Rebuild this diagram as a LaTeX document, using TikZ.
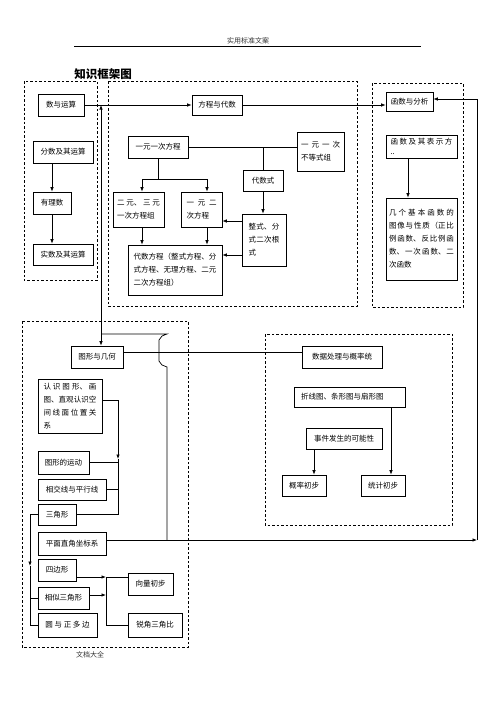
\documentclass[tikz,border=0pt]{standalone}
\usepackage{fontspec}
\setmainfont{Noto Sans CJK SC}
\usetikzlibrary{arrows.meta}
\XeTeXlinebreaklocale "zh"
\XeTeXlinebreakskip=0pt plus 3pt
\tolerance=9999
\hbadness=10000
\begin{document}
\begin{tikzpicture}[x=1pt,y=-1pt,
  bx/.style={draw, line width=0.6pt, inner sep=0pt, font=\fontsize{7.5}{13}\selectfont},
  ml/.style={bx, align=justify},
  frame/.style={draw, line width=0.7pt, dash pattern=on 2.5pt off 2pt},
  ln/.style={line width=0.7pt},
  arr/.style={ln, -{Latex[length=4.5pt,width=3.5pt]}},
  arrb/.style={ln, {Latex[length=4.5pt,width=3.5pt]}-{Latex[length=4.5pt,width=3.5pt]}},
]
\useasboundingbox (0,0) rectangle (496,702);

% header
\node[font=\fontsize{7}{8}\selectfont, text=black!80] (hdr) at (248,41) {实用标准文案};
\draw[line width=0.6pt] (74,46) -- (421,46);
\node[font=\fontsize{11.5}{12}\selectfont\bfseries] (title) at (103,74) {知识框架图};
\node[font=\fontsize{7}{8}\selectfont, text=black!80] (foot) at (90,655) {文档大全};

% dashed frames
\draw[frame] (24,81) rectangle (97,280);
\draw[frame] (108,81) rectangle (357,306);
\draw[frame] (372,83) rectangle (463,307);
\draw[frame] (22,321) rectangle (188,647);
\draw[frame] (265,334) rectangle (452,525);

% top row
\node[bx, minimum width=46pt, minimum height=22pt] (shu) at (61,105) {数与运算};
\node[bx, minimum width=50pt, minimum height=20pt] (fc) at (217,105) {方程与代数};
\node[bx, minimum width=47pt, minimum height=19pt] (hs) at (409.5,101.5) {函数与分析};

% box A
\node[bx, minimum width=60pt, minimum height=22pt] (fs) at (63,152) {分数及其运算};
\node[bx, minimum width=38pt, minimum height=22pt] (yl) at (52,203) {有理数};
\node[bx, minimum width=60pt, minimum height=21pt] (ss) at (63,254.5) {实数及其运算};

% box B
\node[bx, minimum width=60pt, minimum height=22pt] (yy) at (158,147) {一元一次方程};
\node[ml, text width=39pt, inner xsep=4pt, minimum height=39pt] (bd) at (320.5,151.5) {一元一次\linebreak 不等式组};
\node[bx, minimum width=40pt, minimum height=21pt] (dss) at (263,180.5) {代数式};
\node[ml, text width=43pt, inner xsep=4pt, minimum height=35pt] (ey) at (138.5,209.5) {二元、三元\linebreak 一次方程组};
\node[ml, text width=30pt, inner xsep=5.5pt, minimum height=35pt] (ec) at (201.5,209.5) {一元二\linebreak 次方程};
\node[ml, text width=31pt, inner xsep=6.5pt, minimum height=52pt] (zs) at (264,240) {整式、分\linebreak 式二次根\linebreak 式};
\node[ml, text width=83pt, inner xsep=5.5pt, minimum height=50pt] (dsfc) at (175,270) {代数方程（整式方程、分\linebreak 式方程、无理方程、二元\linebreak 二次方程组）};

% box C
\node[ml, text width=62pt, inner xsep=4.5pt, minimum height=23pt, font=\fontsize{7.5}{10}\selectfont] (hb) at (421.5,146.5) {函数及其表示方\linebreak ..};
\node[ml, text width=65pt, inner xsep=3pt, minimum height=82pt] (jg) at (421.5,239) {几个基本函数的\linebreak 图像与性质（正比\linebreak 例函数、反比例函\linebreak 数、一次函数、二\linebreak 次函数};

% box D
\node[bx, minimum width=52pt, minimum height=22pt] (tx) at (97,357) {图形与几何};
\node[ml, text width=53pt, inner xsep=5.5pt, minimum height=54pt] (rs) at (70,406) {认识图形、画\linebreak 图、直观认识空\linebreak 间线面位置关\linebreak 系};
\node[bx, minimum width=51pt, minimum height=23pt] (yd) at (63.5,462.5) {图形的运动};
\node[bx, minimum width=68pt, minimum height=21pt] (xj) at (72,489.5) {相交线与平行线};
\node[bx, minimum width=38pt, minimum height=21pt] (sj) at (57,514.5) {三角形};
\node[bx, minimum width=68pt, minimum height=23pt] (pm) at (72,543.5) {平面直角坐标系};
\node[bx, minimum width=38pt, minimum height=22pt] (sb) at (57,570) {四边形};
\node[bx, minimum width=51pt, minimum height=22pt] (xs) at (63.5,598) {相似三角形};
\node[bx, minimum width=59pt, minimum height=24pt] (yz) at (67.5,625) {圆 与 正 多 边};
\node[bx, minimum width=45pt, minimum height=22pt] (xl) at (150.5,584) {向量初步};
\node[bx, minimum width=54pt, minimum height=24pt] (rj) at (155,625) {锐角三角比};

% box E
\node[bx, minimum width=80pt, minimum height=22pt] (sj2) at (342,357) {数据处理与概率统};
\node[bx, text width=97pt, inner xsep=7pt, minimum height=20pt, align=left] (zx) at (349.5,397) {折线图、条形图与扇形图};
\node[bx, minimum width=76pt, minimum height=21pt] (sjfs) at (344,438.5) {事件发生的可能性};
\node[bx, minimum width=44pt, minimum height=21pt] (gl) at (304,485.5) {概率初步};
\node[bx, minimum width=44pt, minimum height=21pt] (tj) at (383,485.5) {统计初步};

% coordinates
\coordinate (j1) at (101,105);
\coordinate (j2) at (101,334);
\coordinate (r1) at (477,540);
\coordinate (r2) at (477,99);
\coordinate (h1) at (167,540);
\coordinate (t1) at (0,352);

% top connectors
\draw[arr] (shu.east) -- (fc.west);
\draw[arr] (fc.east) -- (fc.east -| hs.west);
\draw[arrb] (j1) -- (j1 |- tx.north);
\draw[arr] (pm.east |- r1) -- (r1);
\draw[arr] (r1) -- (r2) -- (r2 -| hs.east);
\draw[ln] (h1) -- (167,367) -- (162,365) -- (159,361) -- (159,340) -- (162,336) -- (167,334) -- (j2);
\draw[ln] (tx.east |- t1) -- (sj2.west |- t1);

% box A
\draw[arr] (yl.north |- fs.south) -- (yl.north);
\draw[arr] (yl.south) -- (yl.south |- ss.north);

% box B
\coordinate (b1) at (158,179);
\coordinate (b2) at (142,179);
\coordinate (b3) at (207,179);
\draw[ln] (yy.south) -- (b1);
\draw[ln] (b2) -- (b3);
\draw[arr] (b2) -- (b2 |- ey.north);
\draw[arr] (b3) -- (b3 |- ec.north);
\draw[arr] (b2 |- ey.south) -- (b2 |- dsfc.north);
\draw[arr] (b3 |- ec.south) -- (b3 |- dsfc.north);
\draw[ln] (yy.east) -- (yy.east -| bd.west);
\draw[ln] (yy.east -| dss.north) -- (dss.north);
\draw[arr] (dss.south) -- (dss.south |- zs.north);
\coordinate (z1) at (0,221);
\coordinate (z2) at (0,255);
\draw[arr] (zs.west |- z1) -- (ec.east |- z1);
\draw[arr] (zs.west |- z2) -- (dsfc.east |- z2);

% box C
\coordinate (k1) at (408,0);
\draw[arr] (k1 |- hb.south) -- (k1 |- jg.north);

% box D
\coordinate (v1) at (118,400);
\coordinate (v2) at (118,459);
\draw[arr] (rs.east |- v1) -- (v1) -- (v2);
\draw[ln] (v2) -- (v1 |- sj.east) -- (sj.east);
\draw[ln] (yd.east) -- (yd.east -| v1);
\draw[ln] (xj.east) -- (xj.east -| v1);
\coordinate (w1) at (30,566);
\draw[arr] (sj.west) -| (w1);
\draw[ln] (w1) |- (yz.west);
\draw[ln] (w1 |- xs.west) -- (xs.west);
\coordinate (u1) at (106,577);
\coordinate (u2) at (106,595);
\draw[arr] (sb.east |- u1) -- (u1);
\draw[arr] (xs.east |- u2) -- (u2);
\draw[ln] (u1) -- (xl.west |- u1);
\draw[ln] (u1) |- (rj.west);

% box E
\coordinate (e1) at (391,0);
\coordinate (e2) at (314,0);
\draw[arr] (e1 |- zx.south) -- (e1 |- tj.north);
\draw[arr] (e2 |- sjfs.south) -- (e2 |- gl.north);
\end{tikzpicture}
\end{document}
